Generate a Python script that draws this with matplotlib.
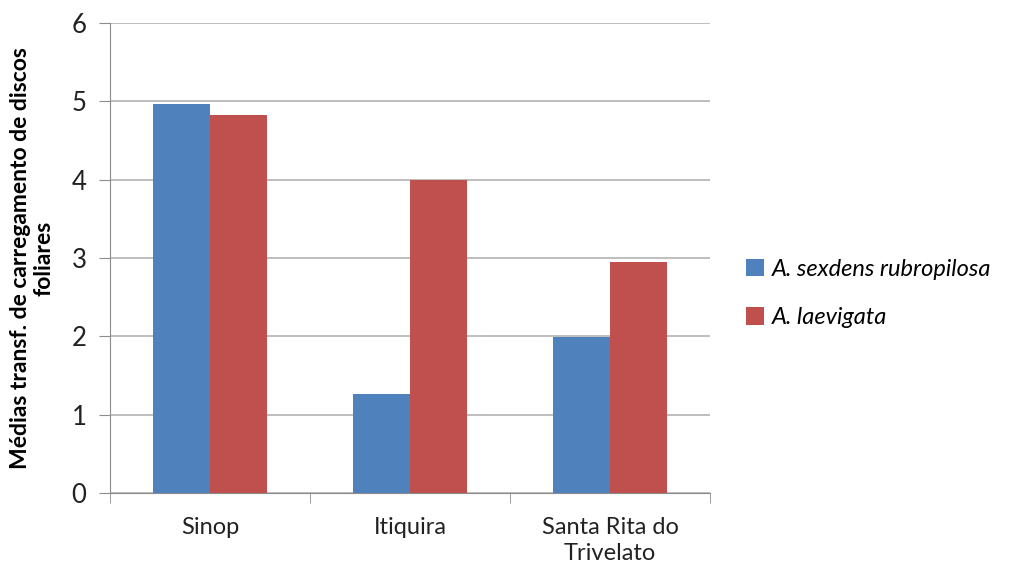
import matplotlib
matplotlib.use("Agg")
import matplotlib.pyplot as plt
import numpy as np

categories = ["Sinop", "Itiquira", "Santa Rita do\nTrivelato"]
series_names = ["A. sexdens rubropilosa", "A. laevigata"]
sexdens = [4.97, 1.27, 1.99]
laevigata = [4.83, 4.0, 2.95]
colors = ["#4F81BD", "#C0504D"]

plt.rcParams["font.family"] = ["Lato", "DejaVu Sans"]

fig = plt.figure(figsize=(10.09, 5.66), dpi=100)
ax = fig.add_axes([110 / 1009, 73 / 566, 600 / 1009, 470 / 566])

x = np.arange(len(categories))
w = 0.285
ax.bar(x - w / 2, sexdens, w, color=colors[0], label=series_names[0], zorder=3)
ax.bar(x + w / 2, laevigata, w, color=colors[1], label=series_names[1], zorder=3)

ax.set_xlim(-0.5, len(categories) - 0.5)
ax.set_ylim(0, 6)
ax.set_yticks(range(0, 7))
ax.yaxis.grid(True, color="#B3B3B3", linewidth=1.2, zorder=0)

grey = "#8C8C8C"
for s in ["top", "right"]:
    ax.spines[s].set_visible(False)
ax.spines["left"].set_color(grey)
ax.spines["bottom"].set_color(grey)

ax.set_xticks(x)
ax.set_xticklabels(categories, fontsize=17, color="#222222", linespacing=1.3)
ax.tick_params(axis="x", length=0, pad=17)
ax.set_xticks(np.arange(-0.5, len(categories)), minor=True)
ax.tick_params(axis="x", which="minor", length=7, color=grey, direction="out")
ax.tick_params(axis="y", length=8, color=grey, labelsize=18.5, labelcolor="#222222", pad=9)

ax.set_ylabel("Médias transf. de carregamento de discos\nfoliares",
              fontsize=16.5, fontweight="bold", linespacing=1.15)
ax.yaxis.set_label_coords(-0.093, 0.5)

leg = fig.legend(loc="upper left", bbox_to_anchor=(746 / 1009, 1 - 259 / 566),
                 frameon=False, handlelength=0.75, handleheight=0.75,
                 handletextpad=0.35, labelspacing=1.15,
                 borderaxespad=0, borderpad=0,
                 prop={"style": "italic", "size": 17})

fig.savefig("out.png", dpi=100)
